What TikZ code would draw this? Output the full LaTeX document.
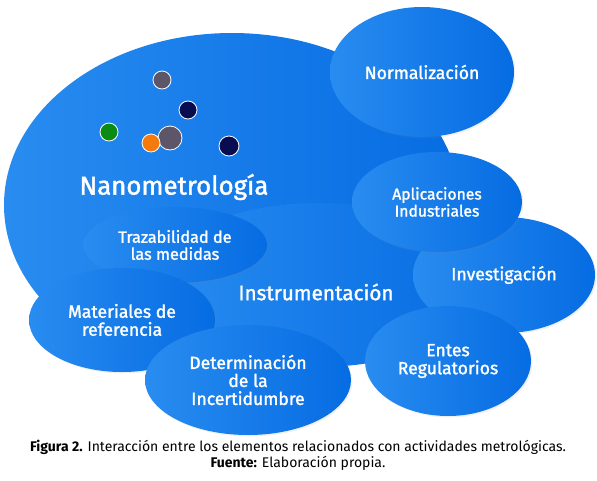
\documentclass[tikz,border=0pt]{standalone}
\usepackage{fontspec}
\setmainfont{Fira Sans}
\newfontfamily\semibold{Fira Sans}[FakeBold=1.6]
\usetikzlibrary{shapes.geometric, shadows, positioning}
\definecolor{bluel}{RGB}{40,140,240}
\definecolor{blued}{RGB}{6,108,226}
\definecolor{dotgray}{RGB}{92,86,104}
\definecolor{dotnavy}{RGB}{10,12,82}
\definecolor{dotgreen}{RGB}{10,140,20}
\definecolor{dotorange}{RGB}{245,122,12}
\tikzset{
  bubble/.style={ellipse, left color=bluel, right color=blued, text=white, align=center, inner sep=0pt}, % every blue ellipse
  soft/.style={drop shadow={opacity=0.12, shadow xshift=1.5pt, shadow yshift=-1.5pt}}, % faint shadow on the small ellipses
  label/.style={font=\semibold\fontsize{17.6}{18}\selectfont}, % text inside the small ellipses
  dot/.style={circle, draw=white, line width=0.8pt, minimum size=18pt, inner sep=0pt}, % the particles
  caption/.style={font=\fontsize{14}{15}\selectfont, inner sep=1pt},
}

\begin{document}
\begin{tikzpicture}[x=1pt, y=-1pt]
    \useasboundingbox (0,0) rectangle (597,480);

    % large ellipses at the back
    \node[bubble, minimum width=456pt, minimum height=344pt] (nano) at (232,205) {};
    \node[bubble, minimum width=330pt, minimum height=164pt] (instr) at (318,285) {};

    % left group
    \node[bubble, soft, label, font=\semibold\fontsize{16.3}{17}\selectfont, minimum width=184pt, minimum height=76pt] (traz) at (175,245) {Trazabilidad de\\las medidas};
    \node[bubble, soft, label, minimum width=186pt, minimum height=104pt] (mater) at (122,320) {Materiales de\\referencia};
    \node[bubble, soft, label, minimum width=206pt, minimum height=110pt] (incert) at (248,380) {Determinación\\de la\\Incertidumbre};

    % right group
    \node[bubble, soft, label, minimum width=184pt, minimum height=130pt] (norm) at (422,72) {Normalización};
    \node[bubble, soft, label, minimum width=182pt, minimum height=116pt] (invest) at (504,275) {Investigación};
    \node[bubble, soft, label, font=\semibold\fontsize{15.7}{17}\selectfont, minimum width=170pt, minimum height=100pt] (aplic) at (437,202) {Aplicaciones\\Industriales};
    \node[bubble, soft, label, minimum width=166pt, minimum height=110pt] (entes) at (448,361) {Entes\\Regulatorios};

    % titles of the two large ellipses
    \node[text=white, font=\semibold\fontsize{25.8}{27}\selectfont] (nanotxt) at (174,187) {Nanometrología};
    \node[text=white, font=\semibold\fontsize{20.7}{22}\selectfont] (instrtxt) at (316,292) {Instrumentación};

    % particles
    \node[dot, fill=dotgray] (p1) at (162,80) {};
    \node[dot, fill=dotnavy] (p2) at (188,110) {};
    \node[dot, fill=dotgreen] (p3) at (109,132) {};
    \node[dot, fill=dotgray, minimum size=24pt] (p4) at (170,138) {};
    \node[dot, fill=dotorange] (p5) at (151,143) {};
    \node[dot, fill=dotnavy, minimum size=20pt] (p6) at (229,146) {};

    % caption
    \node[caption] (cap) at (298,447) {\textbf{Figura 2.} Interacción entre los elementos relacionados con actividades metrológicas.};
    \node[caption, below=0pt of cap] (src) {\textbf{Fuente:} Elaboración propia.};
\end{tikzpicture}
\end{document}
